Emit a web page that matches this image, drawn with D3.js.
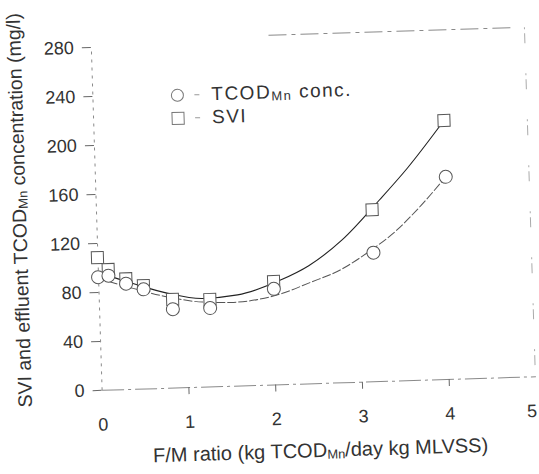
<!DOCTYPE html>
<html>
<head>
<meta charset="utf-8">
<script src="https://cdn.jsdelivr.net/npm/d3@7"></script>
<style>
  body { margin: 0; background: #fff; }
  svg { font-family: "Liberation Sans", Arial, sans-serif; }
</style>
</head>
<body>
<svg id="chart" width="539" height="474"></svg>
<script>
// measured points (F/M ratio vs SVI and effluent TCODMn)
const fmRatio = [0, 0.12, 0.32, 0.52, 0.85, 1.28, 2.02, 3.18, 4.04]
const tcodConc = [92, 93, 86, 81, 64, 64, 78, 105, 165]
const sviValues = [108, 98, 90, 84, 72, 71, 84, 140, 211]

// fitted curves
const sviFitX = [0, 0.4, 0.8, 1.2, 1.6, 2.1, 2.43, 2.82, 3.27, 3.6, 4.04]
const sviFitY = [96, 86, 77, 72, 74, 85, 96, 116, 148, 173, 211]
const tcodFitX = [0, 0.4, 0.8, 1.2, 1.52, 2.11, 2.43, 2.8, 3.13, 3.41, 3.7, 4.04]
const tcodFitY = [91, 82, 74, 69, 68, 74, 82, 92, 106, 120, 139, 165]

const xTicks = [0, 1, 2, 3, 4, 5]
const yTicks = [0, 40, 80, 120, 160, 200, 240, 280]

const svg = d3.select('#chart')
// the original scan sits slightly tilted
const root = svg.append('g').attr('transform', 'rotate(-1.8 318 240)')

const x = d3.scaleLinear().domain([0, 5]).range([97, 531])
const y = d3.scaleLinear().domain([0, 280]).range([383, 40])

const axisGrey = '#8a8a8a'
const ink = '#333'

// frame pieces (top and right), faint like the scan
root.append('line')
  .attr('x1', x(2.05)).attr('x2', x(4.85))
  .attr('y1', y(285)).attr('y2', y(285))
  .attr('stroke', axisGrey).attr('stroke-width', 1)
  .attr('stroke-dasharray', '18,5,4,5')
root.append('line')
  .attr('x1', x(5)).attr('x2', x(5))
  .attr('y1', y(285)).attr('y2', y(0))
  .attr('stroke', '#aaa').attr('stroke-width', 1)
  .attr('stroke-dasharray', '2,4,10,30')

// y axis
const yAxis = root.append('g')
  .attr('transform', `translate(${x(0)},0)`)
  .call(d3.axisLeft(y).tickValues(yTicks).tickSize(9).tickPadding(8).tickSizeOuter(0))
yAxis.select('.domain').attr('stroke', axisGrey).attr('stroke-dasharray', '3,5')
yAxis.selectAll('.tick line').attr('stroke', '#666')
yAxis.selectAll('.tick text').attr('font-size', 18).attr('fill', ink)

// x axis
const xAxis = root.append('g')
  .attr('transform', `translate(0,${y(0)})`)
  .call(d3.axisBottom(x).tickValues(xTicks).tickFormat(d3.format('d'))
    .tickSize(7).tickPadding(21).tickSizeOuter(0))
xAxis.select('.domain').attr('stroke', axisGrey).attr('stroke-dasharray', '22,4,3,4')
xAxis.selectAll('.tick line').attr('stroke', '#666')
  .attr('opacity', d => (d === 0 || d === 5) ? 0 : 1)
xAxis.selectAll('.tick text').attr('font-size', 18).attr('fill', ink)
  .attr('dx', d => d === 5 ? -5 : 0)

// axis titles
const xTitle = root.append('text')
  .attr('x', 314).attr('y', 457)
  .attr('text-anchor', 'middle')
  .attr('font-size', 20).attr('fill', ink)
xTitle.append('tspan').text('F/M ratio (kg TCOD')
xTitle.append('tspan').attr('font-size', 13).attr('dy', 2).text('Mn')
xTitle.append('tspan').attr('dy', -2).text('/day kg MLVSS)')

const yTitle = root.append('text')
  .attr('transform', 'translate(27,201) rotate(-90)')
  .attr('text-anchor', 'middle')
  .attr('font-size', 19.5).attr('fill', ink)
yTitle.append('tspan').text('SVI and effluent TCOD')
yTitle.append('tspan').attr('font-size', 13).attr('dy', 2).text('Mn')
yTitle.append('tspan').attr('dy', -2).text(' concentration (mg/l)')

// fitted curves
const line = d3.line()
  .x(d => x(d[0]))
  .y(d => y(d[1]))
  .curve(d3.curveMonotoneX)

root.append('path')
  .datum(sviFitX.map((v, i) => [v, sviFitY[i]]))
  .attr('fill', 'none').attr('stroke', '#222').attr('stroke-width', 1.1)
  .attr('d', line)
root.append('path')
  .datum(tcodFitX.map((v, i) => [v, tcodFitY[i]]))
  .attr('fill', 'none').attr('stroke', '#555').attr('stroke-width', 1)
  .attr('stroke-dasharray', '9,2')
  .attr('d', line)

// markers
const sq = 12
root.append('g').selectAll('rect')
  .data(fmRatio.map((v, i) => [v, sviValues[i]]))
  .join('rect')
  .attr('x', d => x(d[0]) - sq / 2).attr('y', d => y(d[1]) - sq / 2)
  .attr('width', sq).attr('height', sq)
  .attr('fill', '#fff').attr('stroke', '#555').attr('stroke-width', 1)
root.append('g').selectAll('circle')
  .data(fmRatio.map((v, i) => [v, tcodConc[i]]))
  .join('circle')
  .attr('cx', d => x(d[0])).attr('cy', d => y(d[1]))
  .attr('r', 6.5)
  .attr('fill', '#fff').attr('stroke', '#555').attr('stroke-width', 1)

// legend
const legend = root.append('g').attr('transform', 'translate(182,91)')
legend.append('circle').attr('cx', 0).attr('cy', 0).attr('r', 6)
  .attr('fill', '#fff').attr('stroke', '#777')
legend.append('rect').attr('x', -6).attr('y', 17).attr('width', 12).attr('height', 12)
  .attr('fill', '#fff').attr('stroke', '#777')
legend.selectAll('line.key')
  .data([0, 23])
  .join('line')
  .attr('class', 'key')
  .attr('x1', 17).attr('x2', 22).attr('y1', d => d).attr('y2', d => d)
  .attr('stroke', '#999')
const l1 = legend.append('text').attr('x', 34).attr('y', 6)
  .attr('font-size', 19).attr('fill', ink).attr('letter-spacing', 1.5)
l1.append('tspan').text('TCOD')
l1.append('tspan').attr('font-size', 13).attr('dy', 2).text('Mn')
l1.append('tspan').attr('dy', -2).text(' conc.')
legend.append('text').attr('x', 34).attr('y', 29)
  .attr('font-size', 19).attr('fill', ink).attr('letter-spacing', 1.5)
  .text('SVI')
</script>
</body>
</html>
